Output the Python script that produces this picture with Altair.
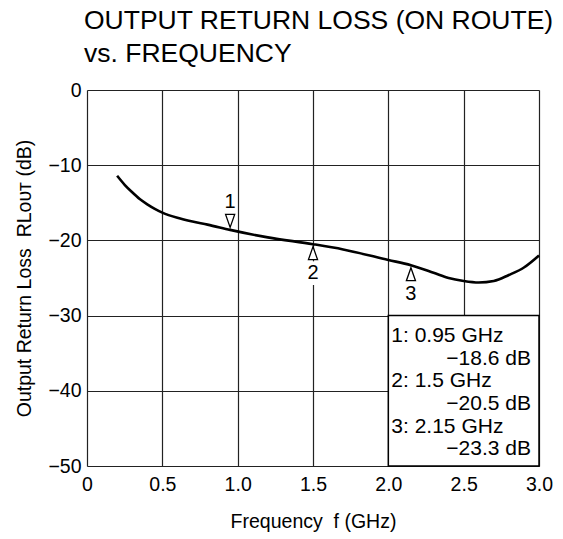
import altair as alt
import pandas as pd

# Curve
freq_ghz = [0.2, 0.25, 0.3, 0.35, 0.4, 0.45, 0.5, 0.6, 0.7, 0.8, 0.95, 1.2, 1.5, 1.7,
            2.0, 2.15, 2.3, 2.4, 2.5, 2.6, 2.7, 2.8, 2.9, 3.0]
rl_db = [-11.4, -12.6, -13.6, -14.5, -15.2, -15.8, -16.3, -17.0, -17.5, -17.9, -18.6,
         -19.6, -20.5, -21.2, -22.6, -23.3, -24.3, -25.0, -25.4, -25.6, -25.4, -24.6,
         -23.6, -22.0]

# Markers
marker_id = ["1", "2", "3"]
marker_f = [0.95, 1.5, 2.15]
marker_db = [-18.6, -20.5, -23.3]
marker_side = ["above", "below", "below"]

# Marker table box (data coordinates)
box_x = [2.0, 3.0]
box_y = [-50, -30]

x_ticks = [0, 0.5, 1.0, 1.5, 2.0, 2.5, 3.0]
y_ticks = [0, -10, -20, -30, -40, -50]

FONT = "Liberation Sans"
NB = "\u00a0"

curve = pd.DataFrame({"f": freq_ghz, "rl": rl_db})
markers = pd.DataFrame({"id": marker_id, "f": marker_f, "rl": marker_db, "side": marker_side})
box = pd.DataFrame({"x": [box_x[0]], "x2": [box_x[1]], "y": [box_y[0]], "y2": [box_y[1]]})

rows = []
for i, (mid, f, v) in enumerate(zip(marker_id, marker_f, marker_db)):
    rows.append({"txt": f"{mid}: {f:g} GHz", "col": "left", "row": 2 * i})
    rows.append({"txt": f"{v:.1f} dB".replace("-", "\u2212"), "col": "right", "row": 2 * i + 1})
table = pd.DataFrame(rows)
table["y"] = box_y[1] - 2.75 - 3.0 * table["row"]
table["xl"] = box_x[0]
table["xr"] = box_x[1]

xs = alt.Scale(domain=[0, 3], nice=False, zero=False)
ys = alt.Scale(domain=[-50, 0], nice=False, zero=False)

x_axis = alt.Axis(values=x_ticks, grid=True, gridColor="#222", gridWidth=1.2, gridOpacity=1,
                  domain=False, ticks=False, labelFont=FONT, labelFontSize=19.5, labelColor="black",
                  labelPadding=9, labelExpr="datum.value == 0 ? '0' : format(datum.value, '.1f')",
                  labelFlush=False, labelOverlap=False,
                  title=f"Frequency{NB}{NB}f (GHz)", titleFont=FONT, titleFontSize=19.5,
                  titleFontWeight="normal", titleColor="black", titlePadding=19)
y_axis = alt.Axis(values=y_ticks, grid=True, gridColor="#222", gridWidth=1.2, gridOpacity=1,
                  domain=False, ticks=False, labelFont=FONT, labelFontSize=19.5, labelColor="black",
                  labelPadding=6, labelFlush=False, labelOverlap=False,
                  title=f"Output Return Loss{NB}{NB}RL\u1d0f\u1d1c\u1d1b (dB)", titleFont=FONT,
                  titleFontSize=19.5, titleFontWeight="normal", titleColor="black", titlePadding=13)

box_layer = alt.Chart(box).mark_rect(fill="white", stroke="black", strokeWidth=1.5).encode(
    x=alt.X("x:Q", scale=xs, axis=x_axis), x2="x2:Q",
    y=alt.Y("y:Q", scale=ys, axis=y_axis), y2="y2:Q")

line = alt.Chart(curve).mark_line(color="black", strokeWidth=2.6, interpolate="monotone").encode(
    x=alt.X("f:Q", scale=xs), y=alt.Y("rl:Q", scale=ys))

down_tri = "M-0.7,-1L0.7,-1L0,1Z"
up_tri = "M0,-1L0.7,1L-0.7,1Z"
bg_path = "M-0.55,-1L0.55,-1L0.55,1L-0.55,1Z"

mk = alt.Chart(markers).encode(x=alt.X("f:Q", scale=xs), y=alt.Y("rl:Q", scale=ys))
above = mk.transform_filter(alt.datum.side == "above")
below = mk.transform_filter(alt.datum.side == "below")

bg_below = below.mark_point(shape=bg_path, size=560, filled=True, fill="white",
                            strokeWidth=0, opacity=1, yOffset=29)
tri_above = above.mark_point(shape=down_tri, size=169, filled=True, fill="white", stroke="black",
                             strokeWidth=1.3, opacity=1, yOffset=-9)
tri_below = below.mark_point(shape=up_tri, size=169, filled=True, fill="white", stroke="black",
                             strokeWidth=1.3, opacity=1, yOffset=9)
lab_above = above.mark_text(font=FONT, fontSize=20, color="black", baseline="middle",
                            yOffset=-28).encode(text="id:N")
lab_below = below.mark_text(font=FONT, fontSize=20, color="black", baseline="middle",
                            yOffset=29).encode(text="id:N")

tb = alt.Chart(table)
tleft = tb.transform_filter(alt.datum.col == "left").mark_text(
    font=FONT, fontSize=21, color="black", align="left", baseline="middle", dx=3).encode(
    x=alt.X("xl:Q", scale=xs), y=alt.Y("y:Q", scale=ys), text="txt:N")
tright = tb.transform_filter(alt.datum.col == "right").mark_text(
    font=FONT, fontSize=21, color="black", align="right", baseline="middle", dx=-8).encode(
    x=alt.X("xr:Q", scale=xs), y=alt.Y("y:Q", scale=ys), text="txt:N")

chart = alt.layer(box_layer, line, bg_below, tri_above, tri_below, lab_above, lab_below,
                  tleft, tright).properties(
    width=452, height=376,
    autosize=alt.AutoSizeParams(type="none"),
    padding={"left": 87, "top": 90, "right": 24, "bottom": 73},
    title=alt.TitleParams(text=["OUTPUT RETURN LOSS (ON ROUTE)", "vs. FREQUENCY"],
                          anchor="start", frame="group", font=FONT, fontSize=26.5,
                          fontWeight="normal", color="black", lineHeight=33, offset=13, dx=-3),
).configure_view(stroke="black", strokeWidth=2.2).configure(background="white")

chart.save("out.html", embed_options={"renderer": "svg", "actions": False})
